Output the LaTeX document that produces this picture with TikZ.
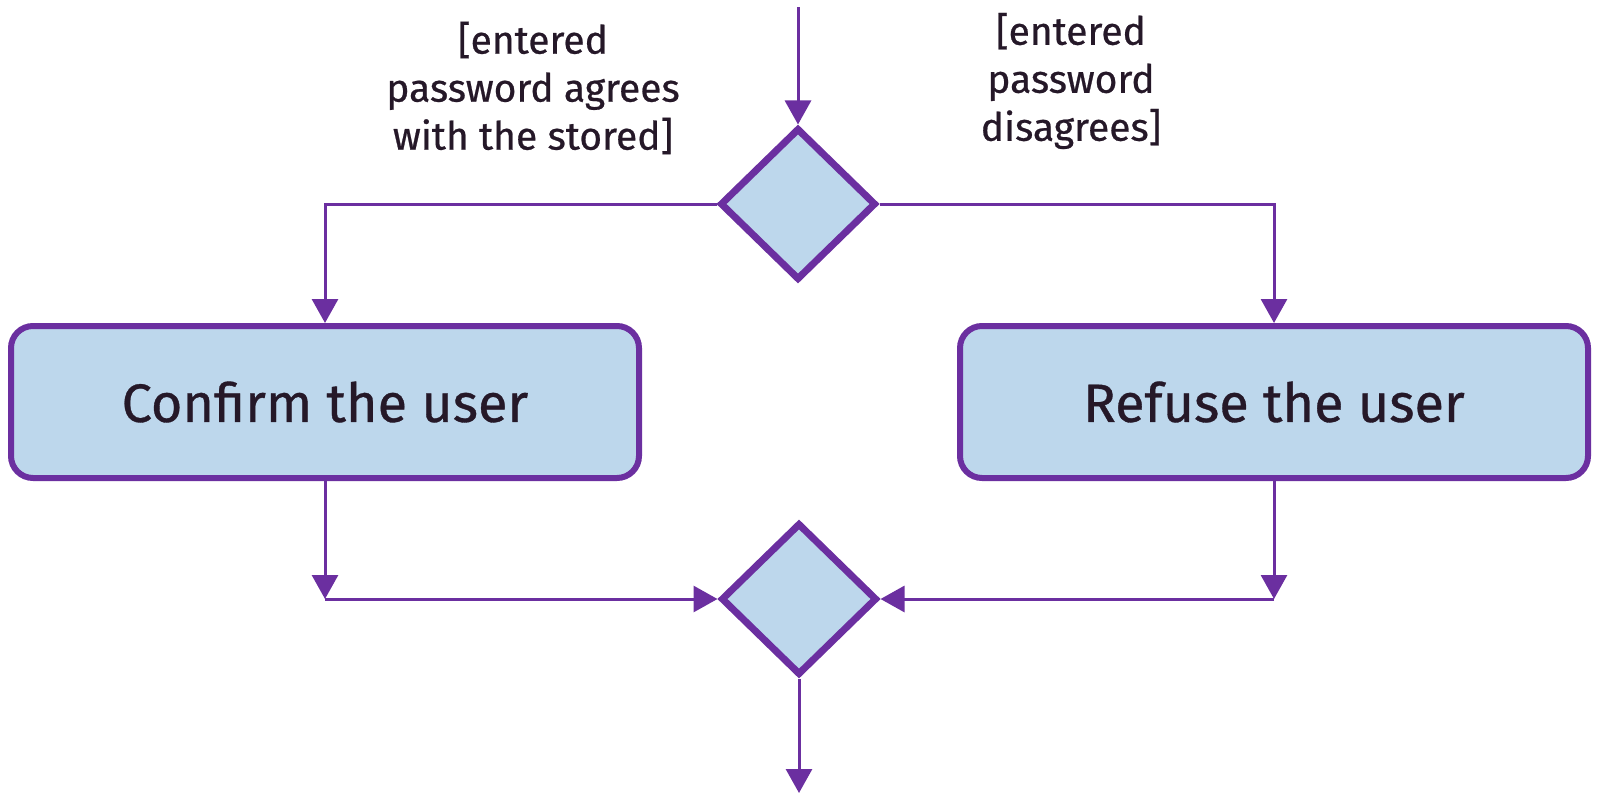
\documentclass[tikz,border=0pt]{standalone}
\usepackage{fontspec}
\setmainfont{Fira Sans}
\newfontfamily\umlfont{Fira Sans}[FakeBold=0.6]
\usepackage{tikz}
\usetikzlibrary{shapes.geometric,arrows.meta}
\definecolor{umlpurple}{HTML}{6B2FA0}
\definecolor{umlfill}{HTML}{BDD7EC}
\definecolor{umltext}{HTML}{251828}

\begin{document}
\begin{tikzpicture}[x=0.5pt,y=-0.5pt]
         \tikzset{decision/.style={diamond,draw=umlpurple,fill=umlfill,line width=3.5pt,
            aspect=1,inner sep=0pt,minimum width=78pt,minimum height=76pt}}
         \tikzset{activity/.style={rectangle,rounded corners=11pt,draw=umlpurple,fill=umlfill,
            line width=3pt,minimum width=314pt,minimum height=76pt,text=umltext,
            font=\umlfont\fontsize{27}{32}\selectfont}}
         \tikzset{guard/.style={align=center,text=umltext,font=\umlfont\fontsize{19.5}{24}\selectfont}}
         \tikzset{flow/.style={draw=umlpurple,line width=1.5pt,
            -{Triangle[length=12pt,width=13pt]}}}
         \useasboundingbox (0,0) rectangle (1600,803);
         % decisions and actions
         \node[decision] (split) at (798,204) {};
         \node[decision] (merge) at (799,599) {};
         \node[activity] (confirm) at (325,402) {Confirm the user};
         \node[activity] (refuse) at (1274,402) {Refuse the user};
         % guards
         \node[guard] (agree) at (533,88) {[entered\\password agrees\\with the stored]};
         \node[guard] (disagree) at (1071,81) {[entered\\password\\disagrees]};
         % free ends
         \coordinate (start) at (798,7);
         \coordinate (finish) at (799,793);
         \coordinate (cornerL) at (confirm.south |- merge.west);
         \coordinate (cornerR) at (refuse.south |- merge.east);
         % flows
         \draw[flow] (start) -- (split);
         \draw[flow] (split.west) -| (confirm.north);
         \draw[flow] (split.east) -| (refuse.north);
         \draw[flow] (confirm.south) -- (cornerL);
         \draw[flow] (cornerL) -- (merge.west);
         \draw[flow] (refuse.south) -- (cornerR);
         \draw[flow] (cornerR) -- (merge.east);
         \draw[flow] (merge) -- (finish);
      \end{tikzpicture}
\end{document}
